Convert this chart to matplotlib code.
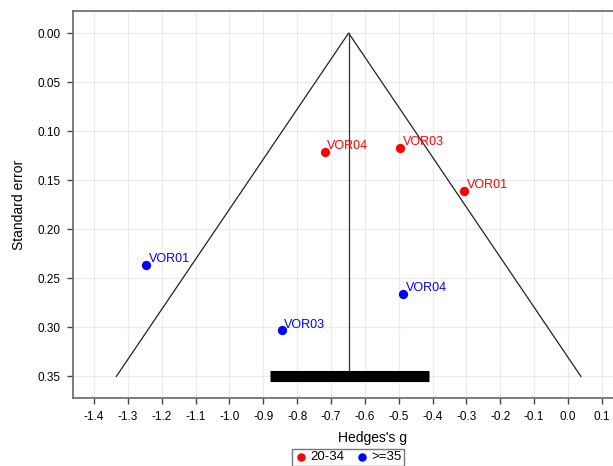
import numpy as np
import matplotlib.pyplot as plt

plt.rcParams['font.family'] = ['Liberation Sans', 'DejaVu Sans']

# data
red_labels = ["VOR04", "VOR03", "VOR01"]
red_g = [-0.719, -0.497, -0.306]
red_se = [0.121, 0.117, 0.161]

blue_labels = ["VOR01", "VOR03", "VOR04"]
blue_g = [-1.245, -0.846, -0.488]
blue_se = [0.236, 0.303, 0.266]

pooled_g = -0.648
se_max = 0.35
ci_low, ci_high = -0.881, -0.412

fig = plt.figure(figsize=(6.13, 4.66), dpi=100)
ax = fig.add_axes([73 / 613, 68 / 466, 600 / 613, 387 / 466])

# funnel
ax.plot([pooled_g - 1.96 * se_max, pooled_g, pooled_g + 1.96 * se_max],
        [se_max, 0, se_max], color="#222222", lw=0.9, zorder=2)
ax.plot([pooled_g, pooled_g], [0, se_max], color="#333333", lw=0.9, zorder=2)
ax.plot([ci_low, ci_high], [se_max, se_max], color="black", lw=8,
        solid_capstyle="butt", zorder=3)

ax.scatter(red_g, red_se, color="red", s=32, zorder=4, label="20-34")
ax.scatter(blue_g, blue_se, color="blue", s=32, zorder=4, label=">=35")
for g, s, t in zip(red_g, red_se, red_labels):
    ax.annotate(t, (g, s), xytext=(2, 2), textcoords="offset points",
                color="red", fontsize=9, zorder=5)
for g, s, t in zip(blue_g, blue_se, blue_labels):
    ax.annotate(t, (g, s), xytext=(2, 2), textcoords="offset points",
                color="blue", fontsize=9, zorder=5)

xt = np.round(np.arange(-1.4, 0.15, 0.1), 1)
ax.set_xlim(-1.462, 0.31)
ax.set_ylim(0.372, -0.0225)
ax.set_xticks(xt)
ax.set_xticklabels([f"{v:.1f}" for v in xt])
ax.set_yticks(np.arange(0, 0.36, 0.05))
ax.set_yticklabels([f"{v:.2f}" for v in np.arange(0, 0.36, 0.05)])
ax.tick_params(labelsize=8.5, length=4, color="#444444", width=1, pad=5)
ax.grid(True, color="#ebebeb", lw=0.8, zorder=0)
ax.set_axisbelow(True)
for sp in ax.spines.values():
    sp.set_color("#666666")
    sp.set_linewidth(1.2)

ax.set_xlabel("Hedges's g", fontsize=10, labelpad=6)
ax.set_ylabel("Standard error", fontsize=10, labelpad=8)

fig.legend(loc="upper center", bbox_to_anchor=(348 / 613, 24 / 466), ncol=2,
           fontsize=9.5, frameon=True, fancybox=False, edgecolor="#555555",
           handletextpad=0.2, columnspacing=0.8, borderpad=0.2,
           handlelength=1.0, markerscale=0.9)

fig.savefig("out.png", dpi=100)
